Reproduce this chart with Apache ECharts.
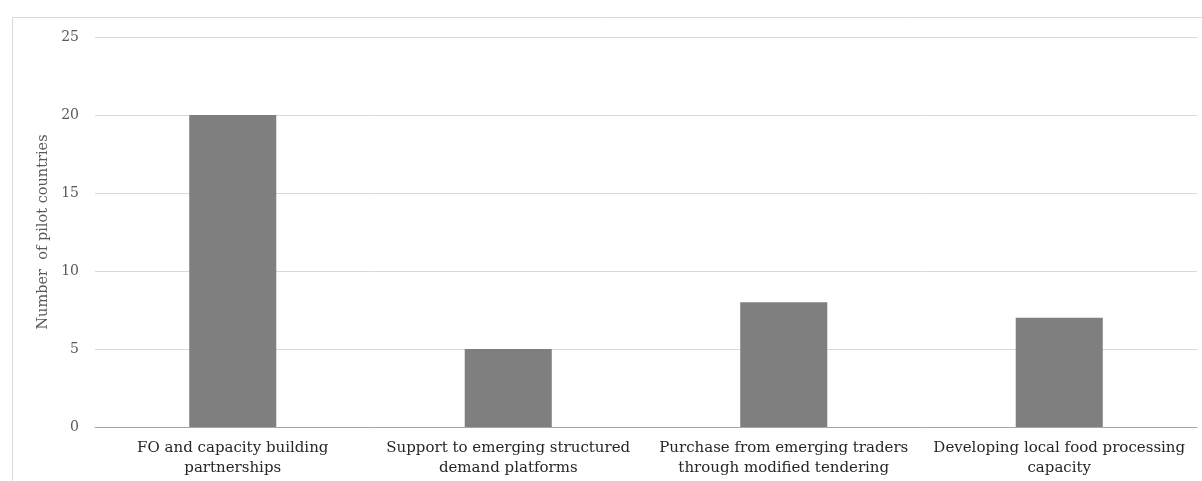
<!DOCTYPE html>
<html>
<head>
<meta charset="utf-8">
<script src="https://cdn.jsdelivr.net/npm/echarts@6/dist/echarts.min.js"></script>
<style>
  html, body { margin: 0; padding: 0; background: #ffffff; }
  #chart { width: 1202px; height: 481px; }
</style>
</head>
<body>
<div id="chart"></div>
<script>
// Pilot countries per programme activity
const categories = [
  'FO and capacity building\npartnerships',
  'Support to emerging structured\ndemand platforms',
  'Purchase from emerging traders\nthrough modified tendering',
  'Developing local food processing\ncapacity'
];
const pilotCountries = [20, 5, 8, 7];
const yAxisTitle = 'Number  of pilot countries';

const FONT = '"DejaVu Serif", Georgia, serif';

const chart = echarts.init(document.getElementById('chart'), null, { renderer: 'canvas' });
chart.setOption({
  backgroundColor: '#ffffff',
  animation: false,
  graphic: [{
    type: 'rect',
    left: 10, top: 15,
    shape: { width: 1220, height: 500 },
    style: { fill: 'none', stroke: '#d9d9d9', lineWidth: 1 },
    silent: true
  }],
  grid: { left: 95, right: 5, top: 37, bottom: 54, containLabel: false },
  xAxis: {
    type: 'category',
    data: categories,
    axisLine: { lineStyle: { color: '#a6a6a6', width: 1 } },
    axisTick: { show: false },
    axisLabel: {
      color: '#262626', fontFamily: FONT, fontSize: 15, lineHeight: 20,
      margin: 11, interval: 0
    }
  },
  yAxis: {
    type: 'value',
    min: 0, max: 25, interval: 5,
    name: yAxisTitle,
    nameLocation: 'middle',
    nameGap: 40,
    nameTextStyle: { color: '#595959', fontFamily: FONT, fontSize: 14.5 },
    axisLine: { show: false },
    axisTick: { show: false },
    splitLine: { lineStyle: { color: '#d9d9d9', width: 1 } },
    axisLabel: { color: '#595959', fontFamily: FONT, fontSize: 14, margin: 16 }
  },
  series: [{
    type: 'bar',
    data: pilotCountries,
    barWidth: '31.6%',
    itemStyle: { color: '#7f7f7f' }
  }]
});
</script>
</body>
</html>
